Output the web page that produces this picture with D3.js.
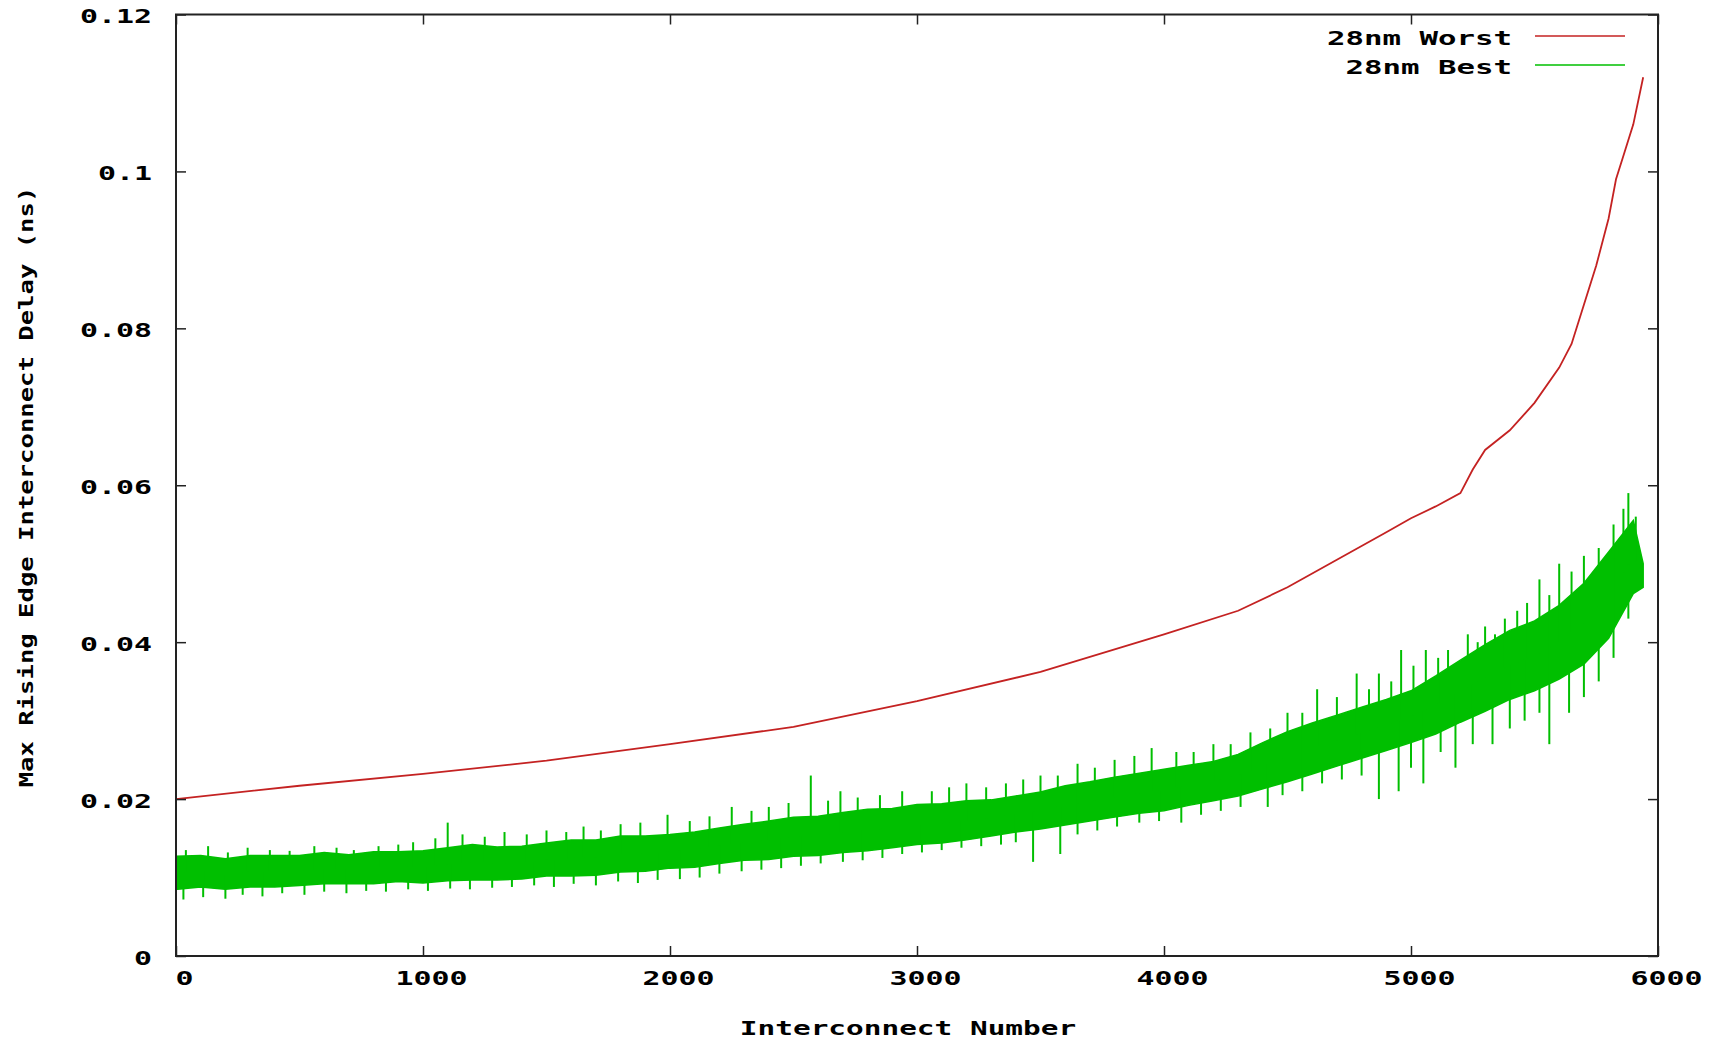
<!DOCTYPE html>
<html>
<head>
<meta charset="utf-8">
<script src="https://cdn.jsdelivr.net/npm/d3@7"></script>
<style>
  body { margin: 0; background: #fff; }
  .lbl { font-family: "DejaVu Sans Mono", monospace; font-weight: bold; font-size: 20px; fill: #000; }
</style>
</head>
<body>
<div id="chart"></div>
<script>
// 28nm Worst (sorted, smooth)
var worstX = [0, 500, 1000, 1500, 2000, 2500, 3000, 3500, 4000, 4300, 4500, 4700, 4900, 5000, 5100, 5200, 5250, 5300, 5400, 5500, 5600, 5650, 5700, 5750, 5800, 5830, 5860, 5900, 5940];
var worstY = [0.0200, 0.0217, 0.0232, 0.0249, 0.0270, 0.0292, 0.0325, 0.0362, 0.0410, 0.0440, 0.0470, 0.0505, 0.0540, 0.0558, 0.0573, 0.0590, 0.0620, 0.0645, 0.0670, 0.0705, 0.0750, 0.0780, 0.0830, 0.0880, 0.0940, 0.0990, 0.1020, 0.1060, 0.1120];

// 28nm Best: noisy band, read as low / high edge every 100 interconnects
var bestX = [0, 100, 200, 300, 400, 500, 600, 700, 800, 900, 1000, 1100, 1200, 1300, 1400, 1500, 1600, 1700, 1800, 1900, 2000, 2100, 2200, 2300, 2400, 2500, 2600, 2700, 2800, 2900, 3000, 3100, 3200, 3300, 3400, 3500, 3600, 3700, 3800, 3900, 4000, 4100, 4200, 4300, 4400, 4500, 4600, 4700, 4800, 4900, 5000, 5100, 5200, 5300, 5400, 5500, 5600, 5700, 5800, 5900, 5940];
var bestLo = [0.0085, 0.0088, 0.0085, 0.0088, 0.0088, 0.0090, 0.0092, 0.0092, 0.0092, 0.0095, 0.0093, 0.0096, 0.0097, 0.0097, 0.0098, 0.0102, 0.0102, 0.0103, 0.0107, 0.0108, 0.0112, 0.0113, 0.0118, 0.0122, 0.0123, 0.0127, 0.0128, 0.0132, 0.0134, 0.0138, 0.0142, 0.0144, 0.0148, 0.0153, 0.0158, 0.0162, 0.0167, 0.0172, 0.0177, 0.0182, 0.0185, 0.0192, 0.0198, 0.0204, 0.0213, 0.0222, 0.0232, 0.0242, 0.0252, 0.0262, 0.0272, 0.0283, 0.0298, 0.0312, 0.0327, 0.0338, 0.0353, 0.0372, 0.0405, 0.0462, 0.0470];
var bestHi = [0.0127, 0.0128, 0.0124, 0.0128, 0.0128, 0.0128, 0.0132, 0.0129, 0.0133, 0.0133, 0.0134, 0.0138, 0.0142, 0.0139, 0.0140, 0.0144, 0.0148, 0.0148, 0.0153, 0.0153, 0.0155, 0.0158, 0.0163, 0.0168, 0.0172, 0.0177, 0.0178, 0.0183, 0.0187, 0.0188, 0.0193, 0.0194, 0.0198, 0.0199, 0.0204, 0.0209, 0.0217, 0.0222, 0.0228, 0.0233, 0.0238, 0.0243, 0.0248, 0.0257, 0.0272, 0.0286, 0.0297, 0.0307, 0.0317, 0.0327, 0.0338, 0.0357, 0.0377, 0.0397, 0.0415, 0.0427, 0.0447, 0.0475, 0.0515, 0.0555, 0.0500];

// spikes sticking up out of the band
var upX = [40, 130, 210, 290, 380, 460, 560, 650, 720, 820, 900, 960, 1050, 1100, 1160, 1250, 1330, 1420, 1500, 1580, 1650, 1720, 1800, 1880, 1990, 2080, 2160, 2250, 2330, 2400, 2480, 2570, 2640, 2690, 2760, 2850, 2940, 3060, 3130, 3200, 3280, 3360, 3430, 3500, 3570, 3650, 3720, 3800, 3880, 3950, 4050, 4120, 4200, 4270, 4350, 4430, 4500, 4560, 4620, 4700, 4780, 4830, 4870, 4920, 4960, 5010, 5060, 5110, 5150, 5230, 5270, 5300, 5340, 5380, 5430, 5470, 5520, 5560, 5600, 5650, 5700, 5760, 5820, 5860, 5880, 5910];
var upY = [0.0135, 0.0140, 0.0132, 0.0138, 0.0135, 0.0134, 0.0140, 0.0138, 0.0135, 0.0140, 0.0142, 0.0145, 0.0150, 0.0170, 0.0155, 0.0152, 0.0158, 0.0155, 0.0160, 0.0158, 0.0165, 0.0160, 0.0168, 0.0170, 0.0180, 0.0172, 0.0178, 0.0190, 0.0185, 0.0190, 0.0195, 0.0230, 0.0198, 0.0210, 0.0202, 0.0205, 0.0210, 0.0210, 0.0215, 0.0220, 0.0215, 0.0220, 0.0225, 0.0230, 0.0230, 0.0245, 0.0240, 0.0250, 0.0255, 0.0265, 0.0260, 0.0260, 0.0270, 0.0270, 0.0285, 0.0290, 0.0310, 0.0310, 0.0340, 0.0330, 0.0360, 0.0340, 0.0360, 0.0350, 0.0390, 0.0370, 0.0390, 0.0380, 0.0390, 0.0410, 0.0400, 0.0420, 0.0410, 0.0430, 0.0440, 0.0450, 0.0480, 0.0460, 0.0500, 0.0490, 0.0510, 0.0520, 0.0550, 0.0570, 0.0590, 0.0560];
// spikes dropping below the band
var dnX = [30, 110, 200, 270, 350, 430, 520, 600, 690, 770, 850, 940, 1020, 1110, 1190, 1280, 1360, 1450, 1530, 1610, 1700, 1790, 1870, 1950, 2040, 2120, 2200, 2290, 2370, 2450, 2530, 2610, 2700, 2780, 2860, 2940, 3020, 3100, 3180, 3260, 3340, 3400, 3470, 3580, 3650, 3730, 3810, 3900, 3980, 4070, 4150, 4230, 4310, 4420, 4480, 4560, 4640, 4720, 4800, 4870, 4950, 5000, 5050, 5120, 5180, 5250, 5330, 5400, 5460, 5520, 5560, 5640, 5700, 5760, 5820, 5880];
var dnY = [0.0072, 0.0075, 0.0073, 0.0078, 0.0076, 0.0080, 0.0078, 0.0082, 0.0080, 0.0083, 0.0082, 0.0085, 0.0083, 0.0086, 0.0085, 0.0087, 0.0088, 0.0090, 0.0088, 0.0092, 0.0090, 0.0095, 0.0093, 0.0097, 0.0098, 0.0100, 0.0105, 0.0108, 0.0110, 0.0112, 0.0115, 0.0118, 0.0120, 0.0122, 0.0125, 0.0130, 0.0132, 0.0135, 0.0138, 0.0140, 0.0142, 0.0145, 0.0120, 0.0130, 0.0155, 0.0160, 0.0165, 0.0170, 0.0172, 0.0170, 0.0180, 0.0185, 0.0190, 0.0190, 0.0205, 0.0210, 0.0220, 0.0225, 0.0230, 0.0200, 0.0210, 0.0240, 0.0220, 0.0260, 0.0240, 0.0270, 0.0270, 0.0290, 0.0300, 0.0310, 0.0270, 0.0310, 0.0330, 0.0350, 0.0380, 0.0430];

var xTicks = [0, 1000, 2000, 3000, 4000, 5000, 6000];
var yTicks = [0, 0.02, 0.04, 0.06, 0.08, 0.1, 0.12];

var width = 1725, height = 1042;
var margin = {left: 176, right: 67, top: 14.5, bottom: 86};
var w = width - margin.left - margin.right;
var h = height - margin.top - margin.bottom;

var x = d3.scaleLinear().domain([0, 6000]).range([0, w]);
var y = d3.scaleLinear().domain([0, 0.12]).range([h, 0]);

var svg = d3.select("#chart").append("svg").attr("width", width).attr("height", height);
svg.append("rect").attr("width", width).attr("height", height).attr("fill", "#fff");

var g = svg.append("g").attr("transform", "translate(" + margin.left + "," + margin.top + ")");

function stretch(sel, cw) {
    sel.each(function () {
        var t = d3.select(this).text();
        d3.select(this).attr("textLength", t.length * cw).attr("lengthAdjust", "spacingAndGlyphs");
    });
}

var green = "#00bf00";

// green band
var band = d3.area()
    .x(function (d, i) { return x(bestX[i]); })
    .y0(function (d, i) { return y(bestLo[i]); })
    .y1(function (d, i) { return y(bestHi[i]); });
g.append("path").attr("d", band(bestX)).attr("fill", green).attr("stroke", green).attr("stroke-width", 1.5);

var mid = d3.scaleLinear().domain(bestX).range(bestX.map(function (d, i) { return (bestLo[i] + bestHi[i]) / 2; }));
function spikes(xs, ys, cls) {
    g.selectAll("." + cls).data(xs).enter().append("line")
        .attr("class", cls)
        .attr("x1", function (d) { return x(d); })
        .attr("x2", function (d) { return x(d); })
        .attr("y1", function (d) { return y(mid(d)); })
        .attr("y2", function (d, i) { return y(ys[i]); })
        .attr("stroke", green).attr("stroke-width", 2);
}
spikes(upX, upY, "up");
spikes(dnX, dnY, "dn");

// red line
var line = d3.line()
    .x(function (d, i) { return x(worstX[i]); })
    .y(function (d, i) { return y(worstY[i]); });
g.append("path").attr("d", line(worstX)).attr("fill", "none").attr("stroke", "#c42222").attr("stroke-width", 1.8);

// axes with inward ticks, mirrored on all sides
function styleAxis(a) {
    a.select(".domain").remove();
    a.selectAll(".tick line").attr("stroke", "#222").attr("stroke-width", 1.5);
}
var ax = g.append("g").attr("transform", "translate(0," + h + ")")
    .call(d3.axisBottom(x).tickValues(xTicks).tickSize(-10).tickPadding(22).tickFormat(d3.format("d")));
styleAxis(ax);
ax.selectAll("text").attr("class", "lbl").attr("dx", 8).attr("dy", "0.35em").attr("font-size", null).attr("font-family", null);
stretch(ax.selectAll("text"), 18);

var axt = g.append("g").call(d3.axisTop(x).tickValues(xTicks).tickSize(-10).tickFormat(""));
styleAxis(axt);

var ay = g.append("g")
    .call(d3.axisLeft(y).tickValues(yTicks).tickSize(-10).tickPadding(24).tickFormat(function (d) { return d === 0 ? "0" : String(+d.toFixed(2)); }));
styleAxis(ay);
ay.selectAll("text").attr("class", "lbl").attr("dy", "0.42em").attr("font-size", null).attr("font-family", null);
stretch(ay.selectAll("text"), 18);

var ayr = g.append("g").attr("transform", "translate(" + w + ",0)")
    .call(d3.axisRight(y).tickValues(yTicks).tickSize(-10).tickFormat(""));
styleAxis(ayr);

g.append("rect").attr("width", w).attr("height", h).attr("fill", "none").attr("stroke", "#222").attr("stroke-width", 2);

// axis titles
var xt = svg.append("text").attr("class", "lbl").attr("x", 908).attr("y", 1035).attr("text-anchor", "middle").text("Interconnect Number");
stretch(xt, 17.7);
var yt = svg.append("text").attr("class", "lbl").attr("transform", "translate(33,487) rotate(-90)").attr("text-anchor", "middle")
    .text("Max Rising Edge Interconnect Delay (ns)");
stretch(yt, 15.4);

// legend
var legNames = ["28nm Worst", "28nm Best"];
var legColors = ["#c42222", green];
legNames.forEach(function (n, i) {
    var ly = 37 + i * 29;
    var t = svg.append("text").attr("class", "lbl").attr("x", 1512).attr("y", ly + 8).attr("text-anchor", "end").text(n);
    stretch(t, 18.5);
    svg.append("line").attr("x1", 1535).attr("x2", 1625).attr("y1", ly - 1).attr("y2", ly - 1)
        .attr("stroke", legColors[i]).attr("stroke-width", 1.5);
});
</script>
</body>
</html>
